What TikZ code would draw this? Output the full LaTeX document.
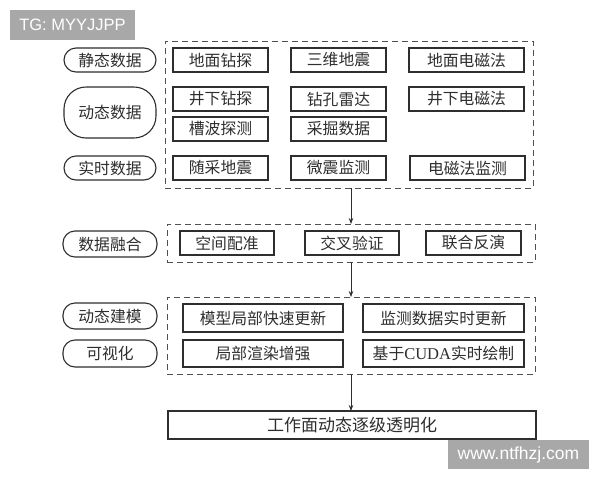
\documentclass[tikz,border=0pt]{standalone}
\usepackage{fontspec}
\setmainfont{Liberation Serif}
\newfontfamily\cjk{Noto Sans CJK SC}
\newfontfamily\wmfont{Liberation Sans}
\usetikzlibrary{arrows.meta}
\definecolor{ink}{HTML}{2E2E2E}
\definecolor{dashc}{HTML}{505050}
\definecolor{wmgray}{HTML}{A8A8A8}
\tikzset{
  x=1pt, y=-1pt,
  base/.style={inner sep=0pt, outer sep=0pt, text=ink, font=\cjk\fontsize{15.8}{15.8}\selectfont, anchor=center},
  box/.style={base, draw=ink, line width=1.1pt, rectangle},
  pill/.style={base, draw=ink, line width=1.1pt, rectangle, rounded corners=12pt},
  bigpill/.style={base, draw=ink, line width=1.1pt, rectangle, rounded corners=22pt},
  group/.style={draw=dashc, line width=0.9pt, dash pattern=on 6pt off 4pt, rectangle, inner sep=0pt, outer sep=0pt},
  arr/.style={draw=ink, line width=0.8pt, -{Stealth[length=6pt,width=4.5pt]}},
  wm/.style={fill=wmgray, inner sep=0pt, text=white, font=\wmfont\fontsize{16.5}{16.5}\selectfont}
}
\begin{document}
\begin{tikzpicture}
\useasboundingbox[fill=white] (0,0) rectangle (600,480);
% watermarks
\node[wm, minimum width=125pt, minimum height=30pt] (wm1) at (72.5,25) {TG: MYYJJPP};
\node[wm, minimum width=141pt, minimum height=29pt, font=\wmfont\fontsize{17.5}{17.5}\selectfont] (wm2) at (518.5,454.5) {www.ntfhzj.com};
% dashed groups
\node[group, minimum width=368pt, minimum height=147pt] (g1) at (349,114.5) {};
\node[group, minimum width=368pt, minimum height=38pt] (g2) at (351,243) {};
\node[group, minimum width=368pt, minimum height=77pt] (g3) at (351,335.5) {};
% left labels
\node[pill, minimum width=92pt, minimum height=24pt] (l1) at (110,60) {静态数据};
\node[bigpill, minimum width=92pt, minimum height=51pt] (l2) at (110,112.5) {动态数据};
\node[pill, minimum width=92pt, minimum height=24pt] (l3) at (110,168) {实时数据};
\node[pill, minimum width=94pt, minimum height=26pt] (l4) at (110,244) {数据融合};
\node[pill, minimum width=94pt, minimum height=26pt] (l5) at (110,316) {动态建模};
\node[pill, minimum width=94pt, minimum height=27pt] (l6) at (110,353.5) {可视化};
% group 1 boxes
\node[box, minimum width=95pt, minimum height=24pt] (a1) at (220.5,60) {地面钻探};
\node[box, minimum width=95pt, minimum height=24pt] (a2) at (220.5,99) {井下钻探};
\node[box, minimum width=95pt, minimum height=24pt] (a3) at (220.5,129) {槽波探测};
\node[box, minimum width=95pt, minimum height=24pt] (a4) at (220.5,168) {随采地震};
\node[box, minimum width=95pt, minimum height=24pt] (b1) at (338.5,60) {三维地震};
\node[box, minimum width=95pt, minimum height=24pt] (b2) at (338.5,99) {钻孔雷达};
\node[box, minimum width=95pt, minimum height=24pt] (b3) at (338.5,129) {采掘数据};
\node[box, minimum width=95pt, minimum height=24pt] (b4) at (338.5,168) {微震监测};
\node[box, minimum width=115pt, minimum height=24pt] (c1) at (466.5,60) {地面电磁法};
\node[box, minimum width=115pt, minimum height=24pt] (c2) at (466.5,99) {井下电磁法};
\node[box, minimum width=115pt, minimum height=24pt] (c4) at (467.5,168) {电磁法监测};
% group 2 boxes
\node[box, minimum width=94pt, minimum height=24pt] (d1) at (227,243) {空间配准};
\node[box, minimum width=94pt, minimum height=24pt] (d2) at (352,243) {交叉验证};
\node[box, minimum width=95pt, minimum height=24pt] (d3) at (473.5,243) {联合反演};
% group 3 boxes
\node[box, minimum width=160pt, minimum height=28pt] (e1) at (263,318) {模型局部快速更新};
\node[box, minimum width=160pt, minimum height=27pt] (e2) at (263,353.5) {局部渲染增强};
\node[box, minimum width=161pt, minimum height=28pt] (f1) at (443.5,318) {监测数据实时更新};
\node[box, minimum width=161pt, minimum height=27pt] (f2) at (443.5,353.5) {基于{\rmfamily\fontsize{16.5}{16.5}\selectfont CUDA}实时绘制};
% final
\node[box, minimum width=368pt, minimum height=28pt, font=\cjk\fontsize{17}{17}\selectfont] (fin) at (352,425) {工作面动态逐级透明化};
% arrows
\coordinate (ax) at (351,0);
\draw[arr] (g1.south -| ax) -- (g2.north -| ax);
\draw[arr] (g2.south -| ax) -- (g3.north -| ax);
\draw[arr] (g3.south -| ax) -- (fin.north -| ax);
\end{tikzpicture}
\end{document}
